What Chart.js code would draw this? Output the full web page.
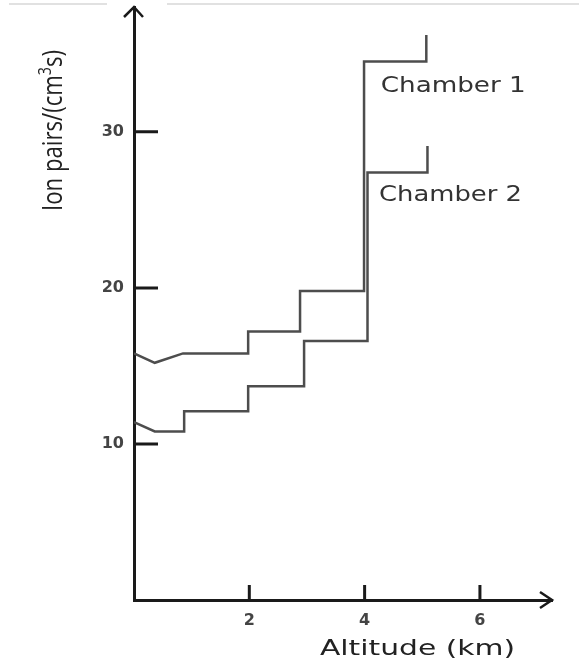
<!DOCTYPE html>
<html lang="en">
<head>
  <meta charset="UTF-8">
  <title>Ion pairs vs altitude</title>
  <script src="https://cdn.jsdelivr.net/npm/chart.js"></script>
  <style>
    body {
      margin: 0;
      padding: 0;
      background: #ffffff;
    }

    #wrap {
      width: 579px;
      height: 662px;
      position: relative;
    }
  </style>
</head>
<body>

<div id="wrap">
  <canvas id="ionChart"></canvas>
</div>

<script>
  // data (altitude in km, ion pairs per cm^3 s)
  const chamber1Alt = [0, 0.36, 0.85, 1.98, 1.98, 2.88, 2.88, 3.99, 3.99, 5.07, 5.07];
  const chamber1Ion = [15.8, 15.2, 15.8, 15.8, 17.2, 17.2, 19.8, 19.8, 34.5, 34.5, 36.2];
  const chamber2Alt = [0, 0.36, 0.87, 0.87, 1.98, 1.98, 2.95, 2.95, 4.05, 4.05, 5.09, 5.09];
  const chamber2Ion = [11.4, 10.8, 10.8, 12.1, 12.1, 13.7, 13.7, 16.6, 16.6, 27.4, 27.4, 29.1];

  const xTickValues = [2, 4, 6];
  const yTickValues = [10, 20, 30];
  const seriesNames = ['Chamber 1', 'Chamber 2'];

  const toPoints = (xs, ys) => xs.map((x, i) => ({ x: x, y: ys[i] }));

  // draw text stretched to a given width (the original is widened)
  function stretchedText(ctx, text, x, y, font, width) {
    ctx.save();
    ctx.font = font;
    const w = ctx.measureText(text).width;
    ctx.translate(x, y);
    ctx.scale(width / w, 1);
    ctx.fillText(text, 0, 0);
    ctx.restore();
  }

  const decorPlugin = {
    id: 'decor',
    afterDraw(chart) {
      const ctx = chart.ctx;
      const area = chart.chartArea;
      const xs = chart.scales.x;
      const ys = chart.scales.y;

      ctx.save();

      // faint lines along the top edge
      ctx.strokeStyle = '#d8d8d8';
      ctx.lineWidth = 1.5;
      ctx.beginPath();
      ctx.moveTo(9, 4); ctx.lineTo(107, 4);
      ctx.moveTo(167, 4); ctx.lineTo(579, 4);
      ctx.stroke();

      // tick marks pointing into the plot
      ctx.strokeStyle = '#1a1a1a';
      ctx.lineWidth = 3;
      ctx.beginPath();
      yTickValues.forEach(v => {
        const py = ys.getPixelForValue(v);
        ctx.moveTo(area.left, py);
        ctx.lineTo(area.left + 24, py);
      });
      xTickValues.forEach(v => {
        const px = xs.getPixelForValue(v);
        ctx.moveTo(px, area.bottom);
        ctx.lineTo(px, area.bottom - 15);
      });
      ctx.stroke();

      // arrow heads
      ctx.lineWidth = 2.5;
      ctx.beginPath();
      ctx.moveTo(area.left - 10, area.top + 10);
      ctx.lineTo(area.left, area.top);
      ctx.lineTo(area.left + 9, area.top + 10);
      ctx.moveTo(area.right - 12, area.bottom - 8);
      ctx.lineTo(area.right, area.bottom);
      ctx.lineTo(area.right - 12, area.bottom + 8);
      ctx.stroke();

      // series labels
      ctx.fillStyle = '#333333';
      ctx.textBaseline = 'alphabetic';
      ctx.textAlign = 'left';
      stretchedText(ctx, seriesNames[0], xs.getPixelForValue(4.28), ys.getPixelForValue(32.57), '22px "DejaVu Sans"', 145);
      stretchedText(ctx, seriesNames[1], xs.getPixelForValue(4.25), ys.getPixelForValue(25.6), '22px "DejaVu Sans"', 143);

      // x axis title
      ctx.fillStyle = '#222222';
      stretchedText(ctx, 'Altitude (km)', 320, 655, '22px "DejaVu Sans"', 195);

      // y axis title, rotated, with superscript 3
      ctx.save();
      ctx.translate(62, 211);
      ctx.rotate(-Math.PI / 2);
      const partA = 'Ion pairs/(cm';
      const partB = '3';
      const partC = 's)';
      ctx.font = '22px "Open Sans"';
      const wa = ctx.measureText(partA).width;
      const wc = ctx.measureText(partC).width;
      ctx.font = '14px "Open Sans"';
      const wb = ctx.measureText(partB).width;
      const total = wa + wb + wc;
      ctx.scale(161 / total, 1.25);
      ctx.font = '22px "Open Sans"';
      ctx.fillText(partA, 0, 0);
      ctx.font = '14px "Open Sans"';
      ctx.fillText(partB, wa, -9);
      ctx.font = '22px "Open Sans"';
      ctx.fillText(partC, wa + wb, 0);
      ctx.restore();

      ctx.restore();
    }
  };

  const ctx = document.getElementById('ionChart').getContext('2d');

  const lineStyle = {
    showLine: true,
    borderColor: '#4d4d4d',
    borderWidth: 2.5,
    pointRadius: 0,
    tension: 0,
    fill: false,
  };

  new Chart(ctx, {
    type: 'scatter',
    data: {
      datasets: [
        Object.assign({ label: seriesNames[0], data: toPoints(chamber1Alt, chamber1Ion) }, lineStyle),
        Object.assign({ label: seriesNames[1], data: toPoints(chamber2Alt, chamber2Ion) }, lineStyle),
      ],
    },
    options: {
      responsive: true,
      maintainAspectRatio: false,
      animation: false,
      layout: {
        padding: { top: 7, right: 27, left: 0, bottom: 0 },
      },
      plugins: {
        legend: { display: false },
        tooltip: { enabled: false },
      },
      scales: {
        x: {
          type: 'linear',
          min: 0,
          max: 7.25,
          grid: { display: false, drawTicks: false },
          border: { display: true, color: '#1a1a1a', width: 3 },
          ticks: {
            stepSize: 1,
            padding: 11,
            color: '#444444',
            font: { family: 'DejaVu Sans', size: 16, weight: 'bold' },
            callback: v => (xTickValues.includes(v) ? v : ''),
          },
          afterFit: s => {
            s.height = 62;
            s.paddingLeft = 0;
            s.paddingRight = 0;
          },
        },
        y: {
          type: 'linear',
          min: 0,
          max: 38,
          grid: { display: false, drawTicks: false },
          border: { display: true, color: '#1a1a1a', width: 3 },
          ticks: {
            stepSize: 10,
            padding: 10,
            color: '#444444',
            font: { family: 'DejaVu Sans', size: 16, weight: 'bold' },
            callback: v => (yTickValues.includes(v) ? v : ''),
          },
          afterFit: s => {
            s.width = 134;
            s.paddingTop = 0;
            s.paddingBottom = 0;
          },
        },
      },
    },
    plugins: [decorPlugin],
  });
</script>

</body>
</html>
